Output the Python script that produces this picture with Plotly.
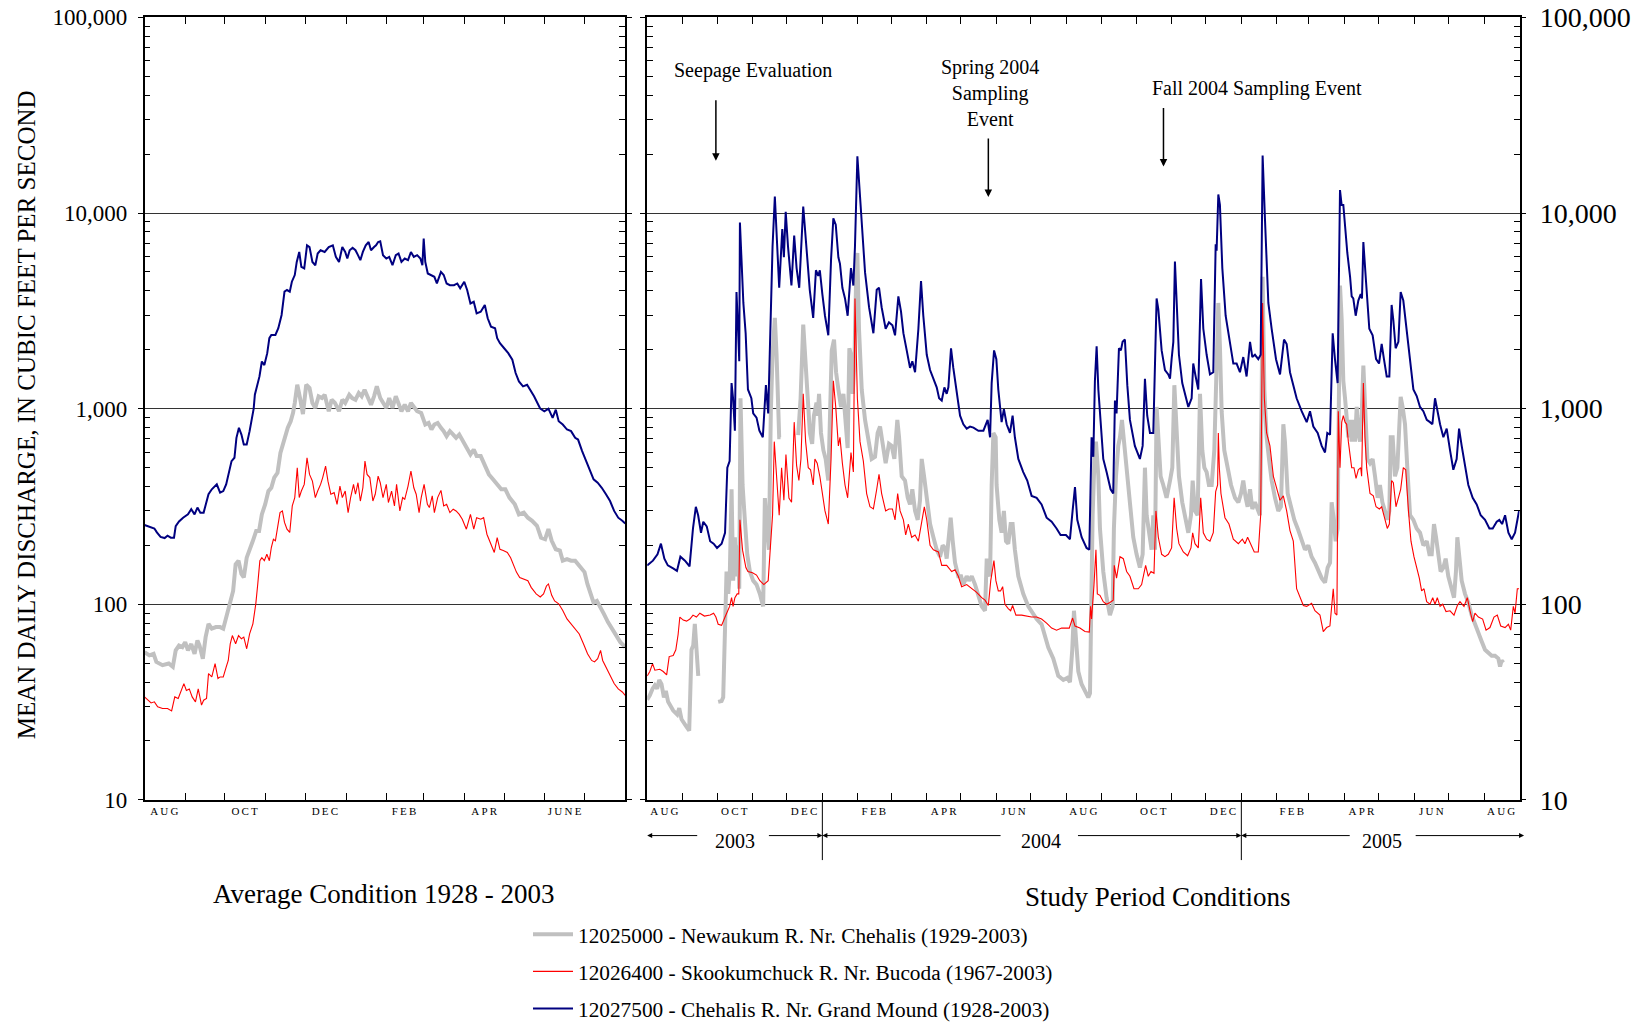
import pandas as pd
import plotly.graph_objects as go

# ---------------- data (day offsets from the start of each panel, discharge in cfs) -------------
AVG_START = "2002-08-01"      # generic water-year, Aug..Jul
STUDY_START = "2003-08-01"

avg_blue_day = [0, 4.4, 7.5, 9.4, 12.2, 15.3, 17.5, 20, 22.4, 23.7, 26.2, 29.3, 33, 35.5, 38, 40.2, 42.4, 44.9, 46.4, 48.6,
                51.1, 53.6, 54.9, 57.4, 59.8, 62, 63.6, 66.1, 68.3, 69.8, 71.7, 73.6, 75.4, 77.6, 79.8, 81.7, 82.9, 83.8, 85.4, 87.3,
                89.1, 91, 93.2, 94.8, 96.3, 99.4, 101.6, 104.1, 106.3, 108.2, 110.3, 111.9, 114.1, 115.6, 117.5, 119.1, 121.3, 123.4, 125.3, 127.5,
                129.7, 131.5, 133.7, 136.8, 139.9, 143, 145.3, 147.7, 150.2, 152.4, 154, 155.8, 158, 160.2, 162.1, 163.9, 165.8, 168, 170.2, 172,
                174.3, 175.8, 177.4, 179, 181.1, 183.6, 185.8, 188.3, 190.8, 192.9, 195.1, 197.6, 200.1, 202.3, 204.5, 207, 209.5, 211, 212, 213.2,
                215.1, 217.9, 220.1, 222, 225.1, 227.2, 229.4, 231.9, 235, 237.5, 239.7, 242.8, 245, 247.5, 250, 252.2, 255.3, 258.4, 260.6, 263.1,
                266.2, 267.8, 269.9, 273.1, 276.2, 279.3, 281.8, 284.3, 287.4, 290.5, 293.7, 295.8, 299, 300.5, 303.6, 306.7, 309.9, 312.3, 314.5, 317.6,
                320.8, 323.9, 327, 329.2, 332.3, 335.4, 338.5, 341, 344.1, 347.2, 350.4, 353.5, 356.6, 359.7, 362.8, 365]
avg_blue_q = [254, 247, 244, 233, 221, 218, 224, 219, 219, 251, 265, 277, 288, 306, 288, 312, 294, 294, 318, 365,
              387, 402, 410, 372, 379, 410, 461, 539, 561, 709, 798, 737, 656, 656, 767, 914, 1000, 1178, 1300, 1462,
              1742, 1670, 1922, 2291, 2380, 2380, 2576, 3013, 3963, 4040, 3963, 4456, 4819, 5623, 6324, 5309, 5207, 6839, 6700, 5623,
              5410, 6208, 6453, 6324, 6700, 6839, 5970, 5623, 6700, 6324, 5856, 6453, 6640, 6453, 6090, 5741, 6324, 6839, 7113, 6453,
              6700, 6839, 7113, 7170, 6090, 5856, 5970, 5410, 6090, 6208, 5623, 5856, 5741, 6324, 5970, 6090, 5856, 5410, 7400, 5623,
              4910, 4819, 4720, 4365, 5000, 4819, 4365, 4280, 4280, 4365, 4120, 4456, 4040, 3451, 3520, 3070, 3130, 3388, 2897, 2626,
              2576, 2291, 2159, 2036, 1922, 1778, 1520, 1377, 1300, 1325, 1225, 1156, 1047, 1000, 969, 1000, 897, 988, 862, 829,
              782, 767, 709, 695, 607, 539, 480, 435, 418, 394, 365, 337, 300, 277, 267, 259]

avg_gray_day = [0, 3.7, 6.9, 9, 13.7, 18.4, 21.5, 23.7, 26.2, 28.7, 30.9, 33, 35.5, 38, 40.2, 41.8, 44.3, 46.4, 48.6, 51.1,
                54.2, 57.4, 59.8, 62, 65.1, 67.3, 69.2, 71.4, 73.6, 75.4, 77.6, 79.8, 82.3, 84.8, 87, 89.1, 91.6, 94.1, 96.3, 98.5,
                101, 103.2, 105.7, 108.8, 111, 112.8, 114.1, 116, 118.1, 120.3, 122.8, 125.3, 127.5, 129.7, 132.2, 134.7, 136.8, 139.9, 142.1, 144.6,
                147.7, 150.2, 152.4, 155.5, 157.7, 160.2, 162.7, 164.9, 167.1, 169.6, 172, 174.3, 176.4, 179, 181.1, 183.6, 185.8, 188.3, 190.8, 192.9,
                195.1, 197.6, 200.1, 202.3, 204.5, 207, 210.1, 213.2, 215.7, 217.9, 220.1, 222.6, 225.1, 227.2, 229.4, 231.9, 234.4, 236.6, 239, 241.3,
                244.4, 247.5, 250, 252.2, 255.3, 258.4, 261.5, 264.6, 267.8, 270.9, 274, 277.1, 281.2, 284.3, 288, 291.1, 294.3, 298, 301.1, 304.2,
                306.7, 309.2, 312.3, 315.4, 317.6, 320.8, 323.9, 327, 329.2, 331.7, 334.1, 336.3, 338.5, 341, 343.5, 345.7, 348.8, 351.9, 355.1, 358.2,
                361.3, 365]
avg_gray_q = [56.9, 54.8, 55.8, 50.7, 48.8, 49.8, 47.9, 58.1, 61.5, 60.4, 64, 58.1, 62.6, 55.8, 65.3, 61.5, 52.7, 67.9, 79.4, 75,
              76.4, 76.4, 75, 86, 100.5, 117, 160, 167, 143, 137, 173, 188, 211, 237, 237, 288, 324, 379, 394, 444,
              470, 594, 682, 798, 862, 951, 1069, 1325, 1133, 938, 1325, 1274, 1069, 1008, 1156, 1133, 1178, 970, 1111, 1069,
              970, 1111, 1069, 1178, 1133, 1111, 1202, 1156, 1250, 1156, 1047, 1156, 1300, 1133, 1069, 1008, 1133, 1008, 1156, 1069,
              970, 1047, 970, 1069, 1027, 970, 950, 829, 845, 782, 829, 845, 797, 767, 723, 767, 737, 709, 737, 695,
              631, 583, 618, 572, 572, 508, 461, 435, 410, 387, 387, 351, 324, 288, 294, 277, 267, 252, 219, 215,
              242, 211, 191, 188, 167, 170, 167, 167, 160, 154, 146, 127, 113, 102, 104, 96.6, 89.3, 81, 74.8, 69.2,
              64, 60.4]

avg_red_day = [0, 2.8, 5, 7.5, 10, 13.7, 17.5, 20.6, 23, 25.6, 27.7, 29.9, 31.8, 34, 36.2, 38.7, 40.8, 43.3, 44.9, 47.1,
               48.6, 51.1, 53.6, 55.8, 57.4, 59.8, 62, 63.6, 65.1, 66.7, 69.2, 71.4, 73.6, 75.4, 77.6, 79.8, 82.3, 84.5, 86, 87.6,
               89.1, 91, 92.9, 94.8, 96.3, 97.9, 99.4, 101, 102.9, 104.7, 106.3, 108.2, 110.3, 112.2, 114.1, 116, 117.5, 119.1, 121.3, 123.4,
               125.3, 127.5, 129.7, 131.5, 133.7, 135.3, 137.5, 139.3, 141.5, 144, 146.2, 148.4, 150.2, 152.4, 154.6, 156.5, 158.7, 160.2, 162.1, 163.9,
               165.8, 167.4, 169, 171.1, 173.4, 175.2, 177.4, 179, 181.1, 183.6, 185.2, 187.6, 189.8, 191.4, 193.9, 196, 197.6, 200.1, 202.3, 204.5,
               206.3, 208.5, 210.1, 212.3, 214.8, 216.3, 218.5, 220.1, 222.6, 225.1, 227.2, 229.4, 231.9, 234.4, 236.6, 239, 241.3, 244.4, 247.5, 250,
               252.2, 255.3, 257.5, 260, 263.1, 265.6, 267.8, 269.9, 272.4, 275.5, 278, 280.2, 282.4, 284.9, 288, 291.1, 293.6, 297.4, 300.5, 303,
               305.2, 306.7, 309.2, 311.4, 314.5, 317.6, 320.8, 323.9, 327, 330.1, 333.3, 336.4, 339.5, 341.7, 344.1, 346.3, 347.9, 350.4, 353.5, 356.6,
               359.7, 362.8, 365]
avg_red_q = [33.6, 32.3, 31.3, 31.7, 29.9, 29.3, 29.3, 28.5, 33.6, 33, 35.6, 39.3, 36.2, 36.9, 33.6, 31.7, 36.9, 30.5, 32.3, 33,
             44.2, 42.5, 49.7, 41.7, 42.5, 42.5, 47.7, 51.6, 62.8, 69.2, 62.8, 69.2, 66.6, 67.9, 59.2, 70.5, 79.4, 100.5, 127, 167,
             173, 167, 180, 167, 195, 215, 211, 242, 294, 300, 262, 242, 233, 318, 351, 499, 351, 379, 410, 561,
             461, 426, 351, 379, 410, 444, 508, 426, 365, 372, 324, 402, 351, 379, 294, 351, 410, 365, 418, 337,
             394, 539, 461, 444, 337, 365, 452, 418, 351, 410, 331, 379, 318, 410, 300, 351, 344, 402, 480, 394,
             365, 294, 351, 410, 324, 312, 358, 294, 351, 382, 318, 324, 294, 306, 300, 288, 272, 242, 288, 242,
             277, 272, 277, 228, 203, 184, 219, 191, 188, 184, 173, 160, 146, 137, 134, 132, 122, 113, 109, 113,
             124, 127, 111, 104, 100.5, 92.9, 84.1, 79.4, 75, 70.5, 62.8, 55.8, 51.6, 50.7, 52.7, 58.1, 51.6, 47.7, 42.5, 39.3,
             36.9, 35.6, 34.2]

study_blue_day = [0, 5, 9, 12, 15, 18, 23, 26, 29, 33, 37, 40, 42.5, 44.5, 47, 49, 52, 55, 58, 61,
                  65, 68, 70, 72, 73.7, 75, 76.6, 78, 79.5, 80.4, 81, 84, 86, 88, 91, 92.6, 95.5, 98, 101, 103.7,
                  105.7, 107.7, 109.5, 111.5, 113.6, 115.3, 118, 119.4, 121, 123, 126, 128.4, 130.5, 132.8, 136.3, 138.6, 142, 145, 147.4, 149.4,
                  150.8, 153, 155.3, 158.2, 160.6, 162.6, 164.7, 167, 168.4, 170.5, 172.8, 175.1, 178, 180.1, 181.5, 183.6, 185.3, 187.4, 190.3, 193.8,
                  197.6, 200.5, 202.5, 204.8, 208.3, 211.2, 214.2, 216.5, 219.4, 221.7, 223.8, 226.7, 229.6, 231.6, 234, 236.9, 239.2, 241.2, 244.2, 247.1,
                  250, 252.9, 255, 257.3, 259.6, 261.6, 263.1, 265.4, 267.4, 270.4, 273.3, 276.2, 279.1, 282, 285, 289.3, 293.7, 297.4, 299.5, 300.9,
                  303, 305, 306.7, 309.6, 311.6, 314, 316.9, 319.2, 321.2, 324.2, 328.5, 332, 335.8, 340.2, 344.5, 348.9, 353.3, 357.6, 361.1, 365.8,
                  369.3, 371.6, 373.7, 375.7, 379.5, 383.8, 386.2, 388.2, 389.7, 391.1, 392.6, 394.1, 398.4, 401.3, 404.8, 407.1, 408.6, 410, 412.1, 413.8,
                  415.3, 417.3, 419.4, 421.7, 426, 430.4, 432.8, 434.8, 436.8, 439.2, 442.1, 445, 446.5, 449.4, 452.3, 455.2, 456.7, 458.1, 459.6, 461,
                  462.5, 464.5, 467.4, 469.8, 472.7, 475.6, 477, 479.1, 481.4, 483.8, 485.8, 488.7, 491.6, 494.5, 496.6, 497.4, 498.9, 500.3, 502.4, 505.3,
                  509.1, 512, 514.9, 517.8, 520.7, 523.6, 526.6, 528.6, 530.9, 533.8, 535.9, 537.6, 539.7, 542.6, 545.5, 549.3, 552.8, 556.3, 558.6, 561.5,
                  564.4, 567.3, 571.7, 576.1, 579, 581.9, 585.7, 589.2, 592.1, 594.1, 596.5, 598.8, 600.8, 603.1, 605.2, 606.6, 608.1, 610.1, 611.6, 614,
                  615.4, 616.8, 618.9, 621.2, 623.3, 624.4, 625.6, 627.9, 630.8, 633.7, 636.7, 639.3, 641.6, 643.6, 646, 648.3, 650.3, 651.8, 653.8, 656.2,
                  658.2, 660.5, 663.4, 666.4, 669.3, 672.2, 675.1, 678, 681, 683.8, 685.9, 688.2, 690.2, 692.6, 695.5, 698.4, 701.3, 704.2, 707.1, 709.2,
                  711.5, 714.4, 717.3, 721.1, 724.6, 728.1, 731.9, 735.7, 738.6, 742.1, 744.4, 746.8, 749.4, 752.3, 755.2, 758.1, 761.6]
study_blue_q = [158, 167, 180, 204, 171, 158, 152, 148, 175, 167, 156, 244, 315, 285, 232, 264, 250, 210, 204, 194,
                204, 232, 499, 540, 1352, 1130, 771, 3950, 2430, 1745, 8940, 3470, 2430, 1253, 1130, 946, 900, 771, 714, 1318,
                946, 2430, 6750, 12140, 6750, 4150, 8280, 5940, 10150, 6750, 4260, 7670, 5230, 4150, 10800, 7100, 4050, 2910, 5100, 4770,
                5100, 3850, 2985, 2370, 5790, 9400, 8710, 5940, 5500, 4150, 3660, 2985, 5230, 4260, 6750, 19500, 13800, 10150, 4970, 3300,
                2430, 4050, 4150, 3300, 2560, 2760, 2670, 2370, 3750, 3140, 2430, 1985, 1615, 1745, 1535, 2560, 4490, 2985, 1885, 1575,
                1420, 1285, 1130, 1100, 1285, 1190, 1285, 2035, 1615, 1190, 920, 832, 790, 810, 800, 771, 771, 876, 714, 1350,
                1985, 1790, 1253, 853, 995, 832, 751, 920, 714, 553, 474, 429, 358, 350, 324, 277, 264, 244, 226, 226,
                215, 300, 397, 270, 220, 194, 190, 714, 567, 1387, 2084, 1253, 553, 474, 387, 368, 1100, 946, 2035, 1985,
                2195, 2255, 1318, 876, 645, 553, 645, 1422, 920, 751, 751, 3660, 3220, 1985, 1575, 1496, 1422, 1790, 2195, 5650,
                3300, 1885, 1352, 1190, 1020, 1130, 1700, 1460, 1253, 4600, 2560, 1885, 1496, 1535, 6920, 6410, 12450, 11000, 5230, 2985,
                2140, 1700, 1700, 1535, 1835, 1460, 2195, 1835, 1885, 1790, 1885, 19700, 9170, 3470, 2560, 1790, 1496, 2255, 2140, 1535,
                1318, 1130, 970, 853, 970, 810, 751, 645, 597, 751, 735, 2430, 1790, 1352, 13100, 11000, 11000, 7480, 6250, 4720,
                3750, 3660, 2985, 3570, 3850, 3660, 7100, 4490, 2560, 2370, 1790, 1700, 2140, 1790, 1460, 1460, 3390, 2830, 2035, 2195,
                3950, 3570, 2560, 1700, 1253, 1160, 1020, 970, 876, 853, 832, 1130, 970, 832, 714, 790, 613, 487, 553, 790,
                645, 499, 407, 350, 324, 285, 270, 244, 244, 264, 270, 257, 285, 232, 215, 232, 300]

study_red_day = [0, 2.3, 4.7, 6.7, 11, 14, 17, 19.2, 22.7, 25, 27, 28.5, 31.5, 34.4, 37.3, 40, 43, 46, 50, 55,
                 58, 60, 62, 65, 68, 70, 72, 73.7, 75, 76.6, 78.6, 80, 81, 83.3, 86.2, 88, 92, 95.5, 98.4, 101.9,
                 105.7, 107.2, 109.5, 111, 113, 115.3, 117.4, 119.4, 121.2, 123.8, 126.1, 128.4, 130.5, 132.5, 134.3, 136.3, 138.4, 140.7, 142.7, 145,
                 146.5, 148.5, 150.8, 153, 155.3, 158.2, 160.6, 162.6, 164.7, 167, 168.4, 170.5, 172.8, 175.1, 178, 180.1, 181.5, 183.6, 185.9, 188.8,
                 191.7, 194.6, 197.6, 200.5, 202.5, 204.8, 208.3, 211.2, 214.2, 216.5, 218.8, 220.9, 223.8, 225.8, 228.1, 231, 234, 236.9, 239.8, 242.1,
                 244.2, 247.1, 250, 254.4, 257.3, 261.6, 266, 268.9, 271.8, 274.7, 279.1, 283.5, 287.8, 292.2, 295.1, 298, 300.1, 302.9, 304.6, 306.7,
                 308.7, 310.5, 312.5, 315.4, 317.5, 319.2, 322.1, 327.1, 331.4, 335.8, 340.2, 344.5, 348.9, 353.3, 357.6, 362, 368.7, 371.6, 373.7, 378,
                 382.4, 386.2, 387.3, 388.2, 390.3, 392, 393.2, 395.5, 398.4, 401.3, 404.2, 407.1, 408, 410, 413, 415.9, 418.8, 421.7, 425.2, 429,
                 431.9, 433.4, 435.4, 437.7, 440.1, 442.7, 444.4, 446.5, 449.4, 452.3, 455.2, 458.1, 460.3, 462.5, 464.5, 468.3, 472.1, 475, 476.5, 478.5,
                 481.4, 483.5, 485.8, 488.7, 491.6, 494.5, 496.6, 498.3, 498.9, 499.8, 501.2, 504.7, 508.2, 512, 516.4, 519.9, 522.2, 524.5, 527.4, 530.3,
                 533.8, 535.9, 537.6, 539.1, 541.1, 544, 547, 549.9, 552.8, 555.7, 558.6, 561.5, 564.4, 567.3, 570.2, 573.2, 576.1, 580.4, 583.3, 587.7,
                 590.6, 593.5, 596.4, 599.3, 600.8, 602.5, 603.7, 605.2, 606.7, 608.1, 609.6, 611, 612.5, 614, 615.4, 617.4, 619.2, 621.2, 623.3, 624.1,
                 625.6, 627, 628.5, 631.4, 634.3, 636.7, 639.6, 641.6, 644.5, 646.5, 648.3, 650.3, 651.8, 654.1, 656.2, 658.2, 660.5, 662.6, 665, 667.2,
                 669.8, 672.2, 674.5, 676.5, 678.6, 680.9, 683.8, 686.2, 688.2, 690.2, 692.6, 694.9, 697.8, 701.3, 704.8, 707.7, 710, 713.5, 716.4, 718.8,
                 721.1, 723.1, 726.1, 729.8, 732.8, 736.2, 739.7, 742.6, 745.6, 749.4, 752.3, 754.3, 756.6, 758.1, 760.1, 761.6]
study_red_q = [43, 45.3, 49.7, 46, 46.5, 45.3, 43.5, 54, 54.7, 58.5, 70, 86, 83, 82, 84, 88, 86, 90, 87, 88,
               90, 86, 79, 78, 86, 92.6, 97.5, 108, 97.5, 108, 113, 113, 270, 189, 154, 147, 145, 141, 132, 126,
               132, 180, 285, 678, 429, 285, 499, 340, 582, 349, 332, 853, 513, 429, 553, 1190, 678, 499, 487, 407,
               553, 526, 451, 368, 300, 257, 553, 1387, 1020, 645, 714, 526, 407, 350, 597, 474, 3660, 1130, 678, 540,
               368, 315, 307, 387, 462, 368, 300, 307, 307, 270, 368, 300, 270, 226, 257, 220, 226, 210, 270, 315,
               270, 200, 190, 185, 158, 158, 147, 150, 139, 123, 126, 120, 115, 108, 105, 98.5, 132, 167, 132, 117,
               117, 123, 100, 95, 92.6, 98.5, 88, 88, 87, 86, 86, 84, 80, 75.5, 73.7, 75.5, 75.5, 85, 77.4, 75.5,
               72.5, 72, 97.5, 84, 126, 190, 113, 111, 103, 100, 102, 105, 158, 136, 175, 171, 147, 139, 120, 120,
               126, 139, 158, 139, 147, 144, 300, 220, 180, 175, 180, 194, 350, 244, 204, 185, 177, 194, 232, 204,
               194, 350, 232, 215, 210, 232, 377, 407, 751, 499, 368, 277, 257, 215, 204, 215, 204, 220, 200, 185,
               185, 285, 3470, 1130, 751, 645, 451, 387, 340, 358, 300, 238, 210, 120, 108, 98.5, 97.5, 101, 92.6, 88,
               72.5, 76, 77.4, 120, 90, 88, 970, 499, 853, 920, 853, 832, 678, 553, 499, 499, 440, 487, 499, 451,
               1352, 714, 499, 368, 358, 315, 307, 315, 270, 244, 257, 429, 418, 315, 350, 387, 499, 487, 300, 210,
               175, 154, 136, 117, 120, 103, 100, 108, 100, 108, 97.5, 100, 91.7, 92.6, 88, 98.5, 103, 97.5, 108, 92.6,
               81.5, 90, 86, 84, 73.7, 76, 86, 88, 77.4, 76, 79, 73.7, 97.5, 90, 120, 120]

# None marks days with no record at the Newaukum gage
study_gray_day = [0, 2.3, 4.7, 6.7, 8.7, 10.5, 12.5, 14.6, 16.3, 18.3, 22.7, 26.2, 28, 30, 33.8, 36.7, 38.7, 40.2, 41.6, 43,
                  44.6, 53, 62, 65, 66.4, 67.9, 69.3, 70.8, 72.2, 73.7, 75.1, 76.6, 78, 79.5, 80.4, 81.5, 83.3, 85.3, 87.4, 89.7,
                  92.6, 95.5, 98.4, 101.3, 102.8, 104.2, 106.3, 108, 109.5, 111.5, 113, 115.3, 116.5, 124, 131.9, 134, 136.3, 138.4, 140.7, 142.1,
                  144.1, 145.6, 147.9, 149, 150.1, 151.8, 153.9, 155.9, 158.2, 159.7, 161.2, 163.2, 165, 167, 169.3, 171.4, 173.4, 175.1, 176.6, 178,
                  179.5, 181, 182.7, 183.6, 185, 187.4, 190.3, 193.2, 196.1, 199, 201.3, 203.4, 205.7, 208.3, 211.2, 213.6, 215.9, 218.5, 220, 222.3,
                  225.2, 227.6, 229.6, 231.6, 234, 236.3, 238.3, 239.8, 242.1, 244.2, 247.1, 250, 252.9, 255.8, 258.1, 260.2, 261.6, 263.1, 265.1, 266.9,
                  268.9, 271.8, 274.2, 276.2, 279.1, 281.1, 283.5, 286.4, 289.3, 292.2, 295.1, 296.6, 298, 299.5, 300.9, 302.4, 304.4, 305.2, 307.6, 309.6,
                  311.6, 313.4, 315.4, 317.5, 319.2, 321.2, 324.2, 328.5, 332.9, 336.7, 340.2, 344.5, 347.4, 350.4, 354.7, 359.1, 363.5, 367, 369.3, 371.3,
                  372.8, 374.5, 376.6, 379.5, 382.4, 385.3, 386.8, 387.6, 389.1, 390.6, 392, 394.1, 395.5, 398.4, 401.3, 404.2, 406.6, 407.7, 409.5, 411.5,
                  413, 414.7, 416.5, 418.8, 421.7, 424.6, 427.5, 430.4, 432.8, 434.8, 436.3, 438.6, 440.6, 442.1, 443.6, 445, 446.5, 448.5, 450.8, 453.7,
                  456.7, 458.7, 460.5, 462.5, 464.5, 467.4, 470.4, 472.7, 475, 476.5, 478.5, 480.8, 482.9, 484.9, 486.7, 488.7, 490.7, 493.1, 495.4, 497.4,
                  498.9, 500.3, 501.8, 504.1, 507, 510, 513.5, 516.4, 518.7, 520.7, 522.8, 524.5, 526.6, 528.6, 530.9, 533.3, 535.3, 536.7, 537.6, 539.1,
                  541.1, 543.2, 545.5, 548.4, 551.3, 553.6, 555.7, 557.1, 559.5, 562.4, 565.3, 568.2, 571.7, 574.6, 577.5, 580.4, 583.3, 586.2, 589.2, 592.1,
                  594.4, 596.5, 597.9, 599.3, 601.4, 603.1, 604.3, 605.2, 606.7, 608.1, 609.6, 611, 612.5, 614, 615.4, 616.8, 618.3, 619.8, 621.2, 622.7,
                  624.1, 625.6, 627, 629.1, 631.4, 633.7, 635.8, 638.1, 640.1, 642.2, 644.5, 646.5, 648.3, 649.5, 651.2, 653.2, 655.3, 657, 658.2, 659.9,
                  662, 664, 666.4, 669.3, 672.2, 675.1, 678, 681, 683.3, 685.3, 687.3, 689.1, 691.1, 693.1, 695.5, 697.5, 699.8, 702.2, 704.8, 706.5,
                  707.7, 709.2, 711.5, 714.4, 717.3, 720.2, 723.1, 726.1, 729, 731.9, 734.8, 737.7, 740.6, 743.5, 745, 746.4, 747.9]
study_gray_q = [32.5, 34.2, 37, 38.5, 37, 41, 39, 33.4, 36, 31.7, 28.6, 27.3, 29.4, 25.8, 23.9, 22.6, 58.5, 61.5, 79.4, 58.5,
                43, None, 31.7, 32, 33.4, 68, 147, 113, 147, 387, 132, 220, 139, 200, 120, 1130, 407, 270, 180, 147,
                132, 126, 113, 97.5, 349, 270, 190, 970, 1885, 2910, 1885, 714, 714, None, 733, 1130, 2690, 1615, 876, 751,
                661, 920, 1074, 920, 1190, 751, 613, 553, 429, 1130, 1985, 2255, 1535, 1253, 1020, 1190, 832, 629, 2035, 1885,
                1190, 1700, 5230, 6250, 2560, 1253, 876, 678, 553, 567, 751, 810, 678, 526, 661, 645, 553, 876, 714, 451,
                429, 350, 324, 387, 300, 270, 340, 553, 440, 350, 257, 220, 190, 175, 200, 194, 171, 210, 277, 210,
                163, 139, 139, 126, 139, 132, 139, 126, 111, 97.5, 92.6, 171, 147, 139, 407, 751, 714, 407, 270, 232,
                300, 210, 204, 257, 257, 190, 139, 113, 97.5, 90, 84, 79, 68, 60, 52.8, 43, 41, 42, 40, 58.5,
                92.6, 64.5, 45.3, 39, 36, 33.4, 35, 113, 285, 526, 678, 451, 244, 147, 108, 88, 97.5, 244, 451, 645,
                714, 876, 678, 474, 300, 220, 180, 154, 180, 499, 285, 220, 190, 285, 190, 1020, 714, 451, 407, 350,
                429, 499, 1318, 678, 451, 332, 270, 232, 285, 429, 300, 285, 1190, 613, 499, 474, 407, 407, 613, 1535,
                3470, 2085, 970, 613, 499, 407, 350, 332, 368, 429, 350, 315, 387, 307, 332, 300, 285, 1020, 4720, 1253,
                714, 553, 429, 350, 300, 315, 832, 678, 368, 315, 270, 244, 210, 190, 200, 175, 163, 147, 136, 129,
                154, 163, 332, 285, 210, 244, 1460, 4260, 2830, 1387, 1130, 832, 714, 876, 678, 876, 678, 1020, 751, 678,
                920, 1660, 1020, 553, 526, 553, 451, 350, 407, 332, 300, 270, 300, 714, 714, 451, 499, 832, 1150, 1020,
                832, 499, 285, 270, 244, 232, 200, 210, 180, 180, 257, 220, 171, 147, 154, 171, 139, 120, 108, 147,
                220, 180, 132, 113, 102, 88, 79, 70, 64.5, 58.5, 56, 54.5, 54.5, 52.8, 48, 51.5, 50.3]

series_names = ["12025000 - Newaukum R. Nr. Chehalis (1929-2003)",
                "12026400 - Skookumchuck R. Nr. Bucoda (1967-2003)",
                "12027500 - Chehalis R. Nr. Grand Mound (1928-2003)"]

avg_month_labels = ["AUG", "OCT", "DEC", "FEB", "APR", "JUNE"]
avg_month_label_dates = ["2002-08-16", "2002-10-16", "2002-12-16", "2003-02-14", "2003-04-16", "2003-06-16"]
study_month_labels = ["AUG", "OCT", "DEC", "FEB", "APR", "JUN", "AUG", "OCT", "DEC", "FEB", "APR", "JUN", "AUG"]
study_month_label_dates = ["2003-08-16", "2003-10-16", "2003-12-16", "2004-02-15", "2004-04-16", "2004-06-16",
                           "2004-08-16", "2004-10-16", "2004-12-16", "2005-02-14", "2005-04-16", "2005-06-16", "2005-08-16"]
y_tick_vals = [10, 100, 1000, 10000, 100000]
y_tick_text = ["10", "100", "1,000", "10,000", "100,000"]

# ---------------- styling -------------
GRAY, RED, BLUE = "#c0c0c0", "#ff0000", "#000080"
SERIF = "Liberation Serif"
W, H = 1642, 1029
PLOT_TOP, PLOT_BOTTOM = 17.8, 816.5


def to_dates(start, days):
    return pd.Timestamp(start) + pd.to_timedelta(pd.Series(days, dtype=float), unit="D")


def spaced(s):
    return "\u2009".join(s)


fig = go.Figure()

panels = [
    ("x", "y", AVG_START, [(avg_gray_day, avg_gray_q), (avg_red_day, avg_red_q), (avg_blue_day, avg_blue_q)], False),
    ("x2", "y2", STUDY_START, [(study_gray_day, study_gray_q), (study_red_day, study_red_q), (study_blue_day, study_blue_q)], True),
]
styles = [(GRAY, 4), (RED, 1.1), (BLUE, 2)]
for xa, ya, start, series, legend in panels:
    for i, (days, q) in enumerate(series):
        fig.add_trace(go.Scatter(
            x=to_dates(start, days), y=q, mode="lines", xaxis=xa, yaxis=ya,
            line=dict(color=styles[i][0], width=styles[i][1]),
            name=series_names[i], showlegend=legend, legendgroup=f"g{i}",
            connectgaps=False, hoverinfo="skip"))

# minor (unlabeled) tick values
month_starts_avg = pd.date_range("2002-09-01", "2003-07-01", freq="MS").strftime("%Y-%m-%d").tolist()
month_starts_study = pd.date_range("2003-09-01", "2005-08-01", freq="MS").strftime("%Y-%m-%d").tolist()
y_minor = [m * 10 ** e for e in range(1, 5) for m in range(2, 10)]

xbase = dict(showline=True, linecolor="black", linewidth=1.5, mirror="ticks", showgrid=False, zeroline=False,
             automargin=False, tickmode="array", ticks="", ticklen=0,
             tickfont=dict(family=SERIF, size=11, color="black"),
             minor=dict(tickmode="array", ticks="inside", ticklen=7, tickcolor="black", tickwidth=1, showgrid=False))
ybase = dict(type="log", range=[1, 5], showline=True, linecolor="black", linewidth=1.5, mirror="ticks",
             automargin=False, zeroline=False,
             tickmode="array", tickvals=y_tick_vals, ticktext=y_tick_text,
             ticks="outside", ticklen=5, tickcolor="black",
             showgrid=True, gridcolor="#333333", gridwidth=1,
             minor=dict(tickmode="array", tickvals=y_minor, ticks="inside", ticklen=6, tickcolor="black", showgrid=False),
             domain=[1 - PLOT_BOTTOM / H, 1 - PLOT_TOP / H])

fig.update_layout(
    template="none",
    width=W, height=H, margin=dict(l=0, r=0, t=0, b=0, pad=0), autosize=False,
    paper_bgcolor="white", plot_bgcolor="white",
    font=dict(family=SERIF, color="black"),
    xaxis={**xbase, "domain": [144.5 / W, 625.2 / W], "range": ["2002-08-01", "2003-08-01"],
           "tickvals": avg_month_label_dates, "ticktext": [spaced(s) for s in avg_month_labels],
           "minor": {**xbase["minor"], "tickvals": month_starts_avg}, "anchor": "y"},
    xaxis2={**xbase, "domain": [647.2 / W, 1519.5 / W], "range": ["2003-08-01", "2005-09-01"],
            "tickvals": study_month_label_dates, "ticktext": [spaced(s) for s in study_month_labels],
            "minor": {**xbase["minor"], "tickvals": month_starts_study}, "anchor": "y2"},
    yaxis={**ybase, "anchor": "x", "side": "left", "tickfont": dict(family=SERIF, size=23, color="black"),
           "ticklabelstandoff": 6},
    yaxis2={**ybase, "anchor": "x2", "side": "right", "tickfont": dict(family=SERIF, size=28, color="black"),
            "ticklabelstandoff": 8},
    legend=dict(x=528 / W, y=1 - 933 / H, xanchor="left", yanchor="top", bgcolor="rgba(0,0,0,0)",
                font=dict(family=SERIF, size=21.3, color="black"), tracegroupgap=6.4, itemwidth=40),
    showlegend=True,
)


def label(text, xpix, ypix, size, **kw):
    return dict(text=text, x=xpix / W, y=1 - ypix / H, xref="paper", yref="paper", showarrow=False,
                xanchor="center", yanchor="middle", font=dict(size=size, color="black"), **kw)


anns = [
    label("MEAN DAILY DISCHARGE, IN CUBIC FEET PER SECOND", 26, 424, 25, textangle=-90),
    label("Average Condition 1928 - 2003", 383, 913, 27),
    label("Study Period Conditions", 1158, 916, 27),
    label("Seepage Evaluation", 753, 72, 20),
    label("Spring 2004<br>Sampling<br>Event", 990, 95, 20),
    label("Fall 2004 Sampling Event", 1257, 90, 20),
]
# event arrows (pointing down)
for xd, tip, length in [("2003-09-30", 164, 62), ("2004-05-25", 201, 60), ("2004-10-25", 170, 60)]:
    anns.append(dict(text="", x=xd, y=1 - tip / H, xref="x2", yref="paper", showarrow=True,
                     ax=0, ay=-length, arrowhead=2, arrowsize=1, arrowwidth=1.5, arrowcolor="black"))
# year labels and arrows
years = [("2003", "2003-10-17"), ("2004", "2004-07-10"), ("2005", "2005-05-04")]
for txt, xd in years:
    anns.append(dict(text=txt, x=xd, y=1 - 859 / H, xref="x2", yref="paper", showarrow=False,
                     xanchor="center", yanchor="middle", font=dict(size=20, color="black")))
year_arrows = [("2003-08-01", "2003-09-15"), ("2004-01-01", "2003-11-14"),
               ("2004-01-01", "2004-06-06"), ("2005-01-01", "2004-08-10"),
               ("2005-01-01", "2005-04-07"), ("2005-09-05", "2005-06-01")]
for head, tail in year_arrows:
    anns.append(dict(text="", x=head, y=1 - 853 / H, xref="x2", yref="paper", showarrow=True,
                     ax=tail, axref="x2", ay=0, ayref="pixel", arrowhead=2, arrowsize=1, arrowwidth=1,
                     arrowcolor="black", standoff=0))
fig.update_layout(annotations=anns)

# year separators below the study-period axis
for xd in ["2004-01-01", "2005-01-01"]:
    fig.add_shape(type="line", xref="x2", yref="paper", x0=xd, x1=xd, y0=1 - 878 / H, y1=1 - PLOT_BOTTOM / H,
                  line=dict(color="black", width=1))

fig.write_html("out.html")
